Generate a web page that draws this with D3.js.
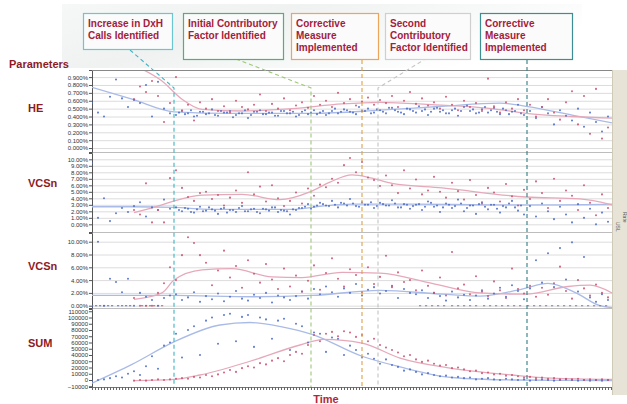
<!DOCTYPE html>
<html><head><meta charset="utf-8">
<script src="https://cdn.jsdelivr.net/npm/d3@7"></script>
<style>body{margin:0;background:#fff}svg{display:block;font-family:"Liberation Sans",Arial,sans-serif}</style>
</head><body><svg id="c" width="627" height="404"></svg>
<script>
// ---------------- DATA ----------------
const STEP = 3;            // days between plotted observations
const BLUE_START = 0, RED_START = 21, BAND_START = 43.5, DAY_MAX = 260;

// HE (%)
const heBlue = [0.57,0.45,0.40,0.65,0.87,0.63,0.52,0.61,0.57,0.80,0.40,0.84,0.50,0.44,
 0.42,0.47,0.44,0.40,0.46,0.43,0.49,0.41,0.45,0.47,0.42,0.44,0.38,0.46,0.48,0.43,0.45,0.41,0.47,0.44,
 0.40,0.46,0.43,0.48,0.45,0.42,0.47,0.44,0.49,0.46,0.43,0.47,0.50,0.45,0.48,0.44,0.51,0.46,0.43,0.49,
 0.45,0.47,0.42,0.50,0.46,0.44,0.48,0.41,0.52,0.47,0.44,0.49,0.45,0.51,0.43,0.48,0.46,0.55,0.42,0.47,
 0.38,0.52,0.44,0.30,0.48,0.41,0.35,0.50,0.27,0.45,0.33,0.21,0.40];
const heBlueBand = [0.45,0.43,0.48,0.41,0.46,0.44,0.42,0.47,0.45,0.39,0.44,0.48,0.42,0.46,0.43,0.45,0.41,0.47,0.44,0.46,
 0.42,0.48,0.45,0.43,0.47,0.44,0.50,0.46,0.48,0.45,0.52,0.47,0.44,0.49,0.46,0.51,0.48,0.45,0.50,0.47,
 0.53,0.49,0.46,0.51,0.48,0.44,0.50,0.47,0.54,0.49,0.45,0.52,0.48,0.46,0.50,0.43,0.47,0.44];
const heRed = [0.62,0.78,0.71,0.85,0.66,0.33,0.57,
 0.90,0.48,0.55,0.35,0.58,0.50,0.62,0.47,0.53,0.45,0.60,0.52,0.49,0.55,0.68,0.47,0.56,0.50,0.63,0.48,0.54,0.58,
 0.51,0.66,0.55,0.60,0.52,0.70,0.57,0.62,0.54,0.59,0.64,0.55,0.61,0.57,0.66,0.52,0.60,0.71,0.56,0.63,
 0.54,0.58,0.50,0.65,0.55,0.48,0.60,0.52,0.57,0.47,0.88,0.53,0.45,0.58,0.50,0.62,0.48,0.55,0.40,0.52,
 0.62,0.45,0.36,0.58,0.72,0.30,0.66,0.18,0.75,0.12,0.26];
const heBlueFit = [[0,0.77],[20,0.62],[41,0.46],[70,0.44],[110,0.44],[144,0.48],[175,0.53],[204,0.57],[217,0.53],[244,0.40],[260,0.32]];
const heRedFit  = [[21,1.05],[35,0.85],[45,0.62],[55,0.49],[75,0.47],[100,0.50],[125,0.56],[144,0.58],[170,0.55],[200,0.50],[217,0.44],[240,0.40],[260,0.38]];

// VCSn (upper panel, %)
const vcsABlue = [9.4,1.0,4.0,0.5,1.7,2.5,1.9,2.8,3.4,1.2,2.6,2.2,3.8,2.4,
 2.6,2.0,2.4,1.8,2.7,2.1,2.3,1.6,2.5,2.2,1.9,2.8,2.0,2.4,1.7,2.3,2.6,1.9,2.1,1.5,
 2.2,2.5,3.1,2.7,3.3,2.9,3.6,2.6,3.2,3.9,2.8,3.4,3.0,2.5,3.3,2.9,3.7,2.6,3.1,2.4,
 3.0,2.2,3.5,2.7,1.9,3.2,2.5,3.8,2.0,2.9,1.6,3.4,2.3,3.0,1.8,2.6,3.6,2.1,1.5,2.8,
 1.2,3.2,2.0,0.8,2.7,1.5,0.3,3.1,1.0,2.4,0.0,1.8,0.4];
const vcsABlueBand = [2.2,2.5,1.9,2.3,2.0,2.6,2.1,2.4,1.8,2.2,2.5,2.0,2.3,1.9,2.4,2.1,2.6,2.2,2.0,2.3,
 2.5,2.7,2.4,2.9,3.1,2.8,3.0,3.3,2.9,3.2,2.7,3.0,3.4,2.8,3.1,2.9,3.2,2.6,3.0,2.8,
 3.1,2.7,3.3,2.9,2.6,3.0,2.8,3.2,2.5,2.9,3.1,2.7,3.0,2.4,2.8,3.2,2.6,2.9];
const vcsARed = [2.2,1.5,6.3,0.3,2.2,0.3,7.1,
 8.3,5.6,4.2,3.6,4.8,5.0,3.9,4.5,2.9,4.1,5.2,3.3,8.0,4.6,5.8,3.5,6.0,4.0,2.8,3.6,4.9,3.2,
 5.5,4.4,6.1,5.7,7.0,6.4,9.1,10.2,8.0,9.6,7.2,6.8,5.9,7.5,6.0,4.8,8.3,5.5,6.9,4.6,
 5.2,7.3,5.0,4.1,6.4,5.1,3.8,6.8,4.5,3.2,5.6,4.9,3.5,6.2,4.3,2.9,5.3,3.9,6.6,4.8,
 2.5,7.0,3.6,5.2,4.4,2.2,6.0,3.3,1.4,4.6,2.5];
const vcsABlueFit = [[0,2.7],[20,2.7],[41,2.6],[60,2.3],[100,2.3],[115,2.8],[130,3.1],[160,3.1],[200,3.0],[230,3.0],[260,3.1]];
const vcsARedFit  = [[21,1.8],[35,3.0],[41,3.6],[55,4.5],[75,4.6],[94,3.8],[109,5.0],[119,6.5],[130,7.6],[140,7.1],[150,6.3],[175,5.6],[217,4.2],[244,3.9],[260,3.0]];

// VCSn (lower panel, %)
const vcsBBlue = [0.0,10.0,0.0,4.2,3.7,2.1,4.2,0.0,2.0,1.4,0.9,0.0,1.2,1.6,
 1.8,0.9,1.3,2.1,0.6,1.5,1.0,1.9,0.7,1.4,2.3,1.1,0.8,1.7,1.2,2.0,0.5,1.6,1.3,0.9,
 1.5,2.2,1.1,2.6,1.8,3.0,2.1,1.4,2.7,2.0,3.4,1.6,2.5,2.9,1.9,2.3,3.1,1.2,2.6,2.0,
 1.8,2.4,1.2,2.0,1.5,0.8,2.2,1.3,1.7,0.9,1.6,2.4,1.1,1.9,2.8,1.4,3.2,2.3,1.0,2.7,
 7.1,3.6,8.2,2.9,9.0,4.1,9.9,2.2,7.6,1.3,0.6,1.8,0.9];
const vcsBRed = [1.2,0.0,0.0,0.0,2.0,3.5,6.0,
 4.0,7.9,10.7,9.8,7.9,6.7,3.2,5.5,8.6,4.4,6.2,2.8,7.1,5.0,3.6,6.5,4.1,2.6,5.8,3.0,4.7,2.2,
 3.9,6.3,2.5,5.1,7.4,4.2,3.0,5.7,4.8,2.1,6.0,3.4,4.5,7.8,2.9,5.2,3.7,4.0,2.4,5.5,
 3.1,2.0,4.4,1.6,8.4,2.7,3.3,1.8,4.6,2.2,1.5,3.8,2.4,1.2,5.8,2.6,1.9,3.1,1.4,2.8,
 1.7,3.5,6.1,2.3,1.1,4.0,2.7,1.6,3.3,2.0,1.3];
const vcsBZeroDays = [0,2,4,6,8,10,13,15,17,19,25,27,29,31,33,35,
 164,167,170,173,176,180,183,186,189,192,196,199,202,205,208,211,214,218,221,224,227,230,233,236,239,242,245,248,251,254,257];
const vcsBBlueFit = [[0,1.6],[41,1.6],[80,1.4],[110,1.6],[144,2.4],[175,1.8],[194,1.5],[215,2.6],[228,3.5],[242,2.0],[254,0.0],[260,-0.3]];
const vcsBRedFit  = [[21,1.0],[35,2.0],[41,4.0],[55,5.6],[70,5.8],[90,4.5],[105,4.4],[125,5.2],[144,5.1],[170,3.5],[194,2.0],[217,1.8],[238,3.0],[249,3.2],[260,2.0]];

// SUM (count)
const sumBlue = [-2000,0,1000,3000,6000,4000,10000,14000,8000,22000,38000,18000,55000,60000,
 74000,36000,80000,86000,40000,95000,100000,58000,104000,106000,62000,101000,104000,53000,100000,97000,66000,95000,98000,48000,
 90000,86000,60000,76000,74000,45000,68000,66000,40000,55000,48000,36000,42000,34000,26000,33000,24000,21000,15000,17000,
 13000,9000,11000,8000,6000,7000,4000,5000,3000,4000,1000,2000,3000,1000,0,2000,1000,0,1000,-1000,
 0,1000,0,-1000,0,1000,0,-1000,0,-1000,0,-1000,0];
const sumRed = [-1000,0,-1000,0,1000,0,1000,
 2000,3000,2000,5000,4000,8000,6000,9000,12000,16000,13000,19000,22000,20000,27000,25000,31000,35000,30000,40000,45000,42000,
 56000,72000,62000,74000,77000,70000,78000,76000,69000,72000,62000,66000,56000,52000,48000,44000,38000,40000,33000,29000,
 31000,26000,23000,24000,19000,20000,17000,14000,15000,11000,12000,9000,10000,7000,8000,6000,4000,5000,3000,4000,
 2000,3000,1000,2000,1000,2000,0,1000,0,1000,0];
const sumBlueFit = [[0,-5000],[20,25000],[41,61000],[64,88000],[79,92000],[95,85000],[110,73000],[135,38000],[154,21000],[180,4000],[210,0],[260,-1000]];
const sumRedFit  = [[21,-1000],[41,1000],[54,8000],[79,30000],[104,56000],[116,65000],[135,59000],[154,35000],[179,19000],[210,8000],[230,3000],[260,1000]];

// tick labels
const heTicks   = [0,0.1,0.2,0.3,0.4,0.5,0.6,0.7,0.8,0.9];
const vcsATicks = [0,1,2,3,4,5,6,7,8,9,10];
const vcsBTicks = [0,2,4,6,8,10];
const sumTicks  = [-10000,0,10000,20000,30000,40000,50000,60000,70000,80000,90000,100000,110000];

const panelNames = ["HE","VCSn","VCSn","SUM"];
const eventDays  = [41,109.5,135,143,217.5];
const eventNotes = [
  ["Increase in DxH","Calls Identified"],
  ["Initial Contributory","Factor Identified"],
  ["Corrective","Measure","Implemented"],
  ["Second","Contributory","Factor Identified"],
  ["Corrective","Measure","Implemented"]];

// ---------------- DRAW ----------------
const svg = d3.select("#c");
const defs = svg.append("defs");
const L = 92, R = 612;
const x = d3.scaleLinear().domain([0, DAY_MAX]).range([L, R]);

// soft grey header backdrop
const g1 = defs.append("linearGradient").attr("id","hdr").attr("x1",0).attr("y1",0).attr("x2",1).attr("y2",0.4);
g1.append("stop").attr("offset","0%").attr("stop-color","#f6f7f7");
g1.append("stop").attr("offset","40%").attr("stop-color","#f0f1f1");
g1.append("stop").attr("offset","75%").attr("stop-color","#f8f9f9");
g1.append("stop").attr("offset","100%").attr("stop-color","#ffffff");
svg.append("rect").attr("x",62).attr("y",4).attr("width",520).attr("height",64).attr("fill","url(#hdr)");

const BLUE = "#4a68c4", RED = "#c84d6e", BLUEFIT = "#a9bbe6", REDFIT = "#e6a9ba";

function seriesPts(vals, start){ return vals.map((v,i)=>({d:start+i*STEP, v})); }

const panels = [
  {top:70, bottom:152, domain:[-0.05,0.99], ticks:heTicks, fmt:v=>v.toFixed(3)+"%", grid:true, labelY:112,
   blue:heBlue, band:heBlueBand, red:heRed, bfit:heBlueFit, rfit:heRedFit},
  {top:153, bottom:232, domain:[-1.18,10.97], ticks:vcsATicks, fmt:v=>v.toFixed(2)+"%", grid:true, labelY:187,
   blue:vcsABlue, band:vcsABlueBand, red:vcsARed, bfit:vcsABlueFit, rfit:vcsARedFit},
  {top:233, bottom:308, domain:[-0.36,11.36], ticks:vcsBTicks, fmt:v=>v.toFixed(2)+"%", grid:true, labelY:270,
   blue:vcsBBlue, red:vcsBRed, bfit:vcsBBlueFit, rfit:vcsBRedFit, zero:vcsBZeroDays},
  {top:309, bottom:387, domain:[-11200,113600], ticks:sumTicks, fmt:d3.format("d"), grid:false, labelY:347,
   blue:sumBlue, red:sumRed, bfit:sumBlueFit, rfit:sumRedFit}
];

svg.append("rect").attr("x",L).attr("y",70).attr("width",R-L).attr("height",317).attr("fill","#fff");

panels.forEach((p,i)=>{
  const y = d3.scaleLinear().domain(p.domain).range([p.bottom,p.top]);
  const g = svg.append("g");
  const cid = "clip"+i;
  defs.append("clipPath").attr("id",cid).append("rect").attr("x",L).attr("y",p.top).attr("width",R-L).attr("height",p.bottom-p.top);
  if (p.grid) {
    g.selectAll("line.grid").data(p.ticks).join("line").attr("class","grid")
      .attr("x1",L).attr("x2",R).attr("y1",d=>y(d)+0.5).attr("y2",d=>y(d)+0.5)
      .attr("stroke","#dcdcdc").attr("stroke-width",1);
  }
  g.append("line").attr("x1",L).attr("x2",R).attr("y1",p.bottom+0.5).attr("y2",p.bottom+0.5).attr("stroke","#bdbdbd");
  const ax = g.append("g").attr("transform",`translate(${L},0)`)
    .call(d3.axisLeft(y).tickValues(p.ticks).tickFormat(p.fmt).tickSize(3).tickPadding(1));
  ax.select(".domain").attr("stroke","#555");
  ax.selectAll(".tick line").attr("stroke","#555");
  ax.selectAll("text").attr("font-size","6px").attr("fill","#333");

  const c = g.append("g").attr("clip-path",`url(#${cid})`);
  const line = d3.line().x(d=>x(d[0])).y(d=>y(d[1])).curve(d3.curveMonotoneX);
  c.append("path").attr("d",line(p.bfit)).attr("fill","none").attr("stroke",BLUEFIT).attr("stroke-width",1.3);
  c.append("path").attr("d",line(p.rfit)).attr("fill","none").attr("stroke",REDFIT).attr("stroke-width",1.3);
  if (p.zero) {
    c.selectAll("rect.z").data(p.zero).join("rect").attr("class","z")
      .attr("x",d=>x(d)-1).attr("y",y(0)-0.6).attr("width",2.2).attr("height",1.2)
      .attr("fill",d=>d<21?BLUE:(d<100?RED:"#8a6aa8")).attr("opacity",0.8);
  }
  const bluePts = seriesPts(p.blue,BLUE_START).concat(p.band ? seriesPts(p.band,BAND_START) : []);
  c.selectAll("circle.b").data(bluePts).join("circle").attr("class","b")
    .attr("cx",d=>x(d.d)).attr("cy",d=>y(d.v)).attr("r",1.05).attr("fill",BLUE).attr("opacity",0.85);
  c.selectAll("circle.r").data(seriesPts(p.red,RED_START)).join("circle").attr("class","r")
    .attr("cx",d=>x(d.d)).attr("cy",d=>y(d.v)).attr("r",1.05).attr("fill",RED).attr("opacity",0.85);

  svg.append("text").attr("x",28).attr("y",p.labelY).text(panelNames[i])
    .attr("font-size","11px").attr("font-weight","bold").attr("fill","#8e1a24");
});

svg.append("line").attr("x1",L).attr("x2",R).attr("y1",70.5).attr("y2",70.5).attr("stroke","#888").attr("stroke-width",1.2);

const xa = svg.append("g").attr("transform","translate(0,387)")
  .call(d3.axisBottom(x).tickValues(d3.range(0,DAY_MAX,1.5)).tickSize(3).tickFormat(""));
xa.select(".domain").attr("stroke","#777");
xa.selectAll(".tick line").attr("stroke","#666");

svg.append("rect").attr("x",R).attr("y",70).attr("width",627-R).attr("height",325).attr("fill","#e7e4d7");
svg.append("line").attr("x1",R+0.5).attr("x2",R+0.5).attr("y1",70).attr("y2",395).attr("stroke","#cfcab8");
svg.append("text").attr("transform","translate(616,222) rotate(90)").text("USL").attr("font-size","5px").attr("fill","#555");
svg.append("text").attr("transform","translate(623,212) rotate(90)").text("Rate").attr("font-size","5px").attr("fill","#555");

const evColors = ["#3cb4c4","#9cc878","#e0a048","#c4c4c4","#2f7f86"];
const evStarts = [[130,50],[236,59],null,[427,58],null];
eventDays.forEach((d,i)=>{
  const xv = x(d);
  const pts = evStarts[i] ? [evStarts[i],[xv,88],[xv,387]] : [[xv,60],[xv,387]];
  svg.append("path").attr("d",d3.line()(pts)).attr("fill","none").attr("stroke",evColors[i])
    .attr("stroke-width",1.1).attr("stroke-dasharray","4,3");
});

const boxes = [{x:83,w:89,h:36},{x:183,w:100,h:46},{x:291,w:87,h:46},{x:385,w:85,h:46},{x:480,w:92,h:46}];
const boxColors = ["#6cc6cf","#55b070","#eaa75a","#cfcfcf","#3d8e93"];
eventNotes.forEach((lines,i)=>{
  const b = boxes[i];
  svg.append("rect").attr("x",b.x+0.5).attr("y",13.5).attr("width",b.w).attr("height",b.h)
    .attr("fill","#fbfbfb").attr("stroke",boxColors[i]).attr("stroke-width",1.2);
  const t = svg.append("text").attr("font-size","10px").attr("font-weight","bold").attr("fill","#a3203c");
  lines.forEach((s,j)=>t.append("tspan").attr("x",b.x+5).attr("y",27+j*11.8).text(s));
});

svg.append("text").attr("x",9).attr("y",68).text("Parameters").attr("font-size","11px").attr("font-weight","bold").attr("fill","#8e1a24");
svg.append("text").attr("x",326).attr("y",403).attr("text-anchor","middle").text("Time").attr("font-size","11px").attr("font-weight","bold").attr("fill","#b0283a");
</script></body></html>
